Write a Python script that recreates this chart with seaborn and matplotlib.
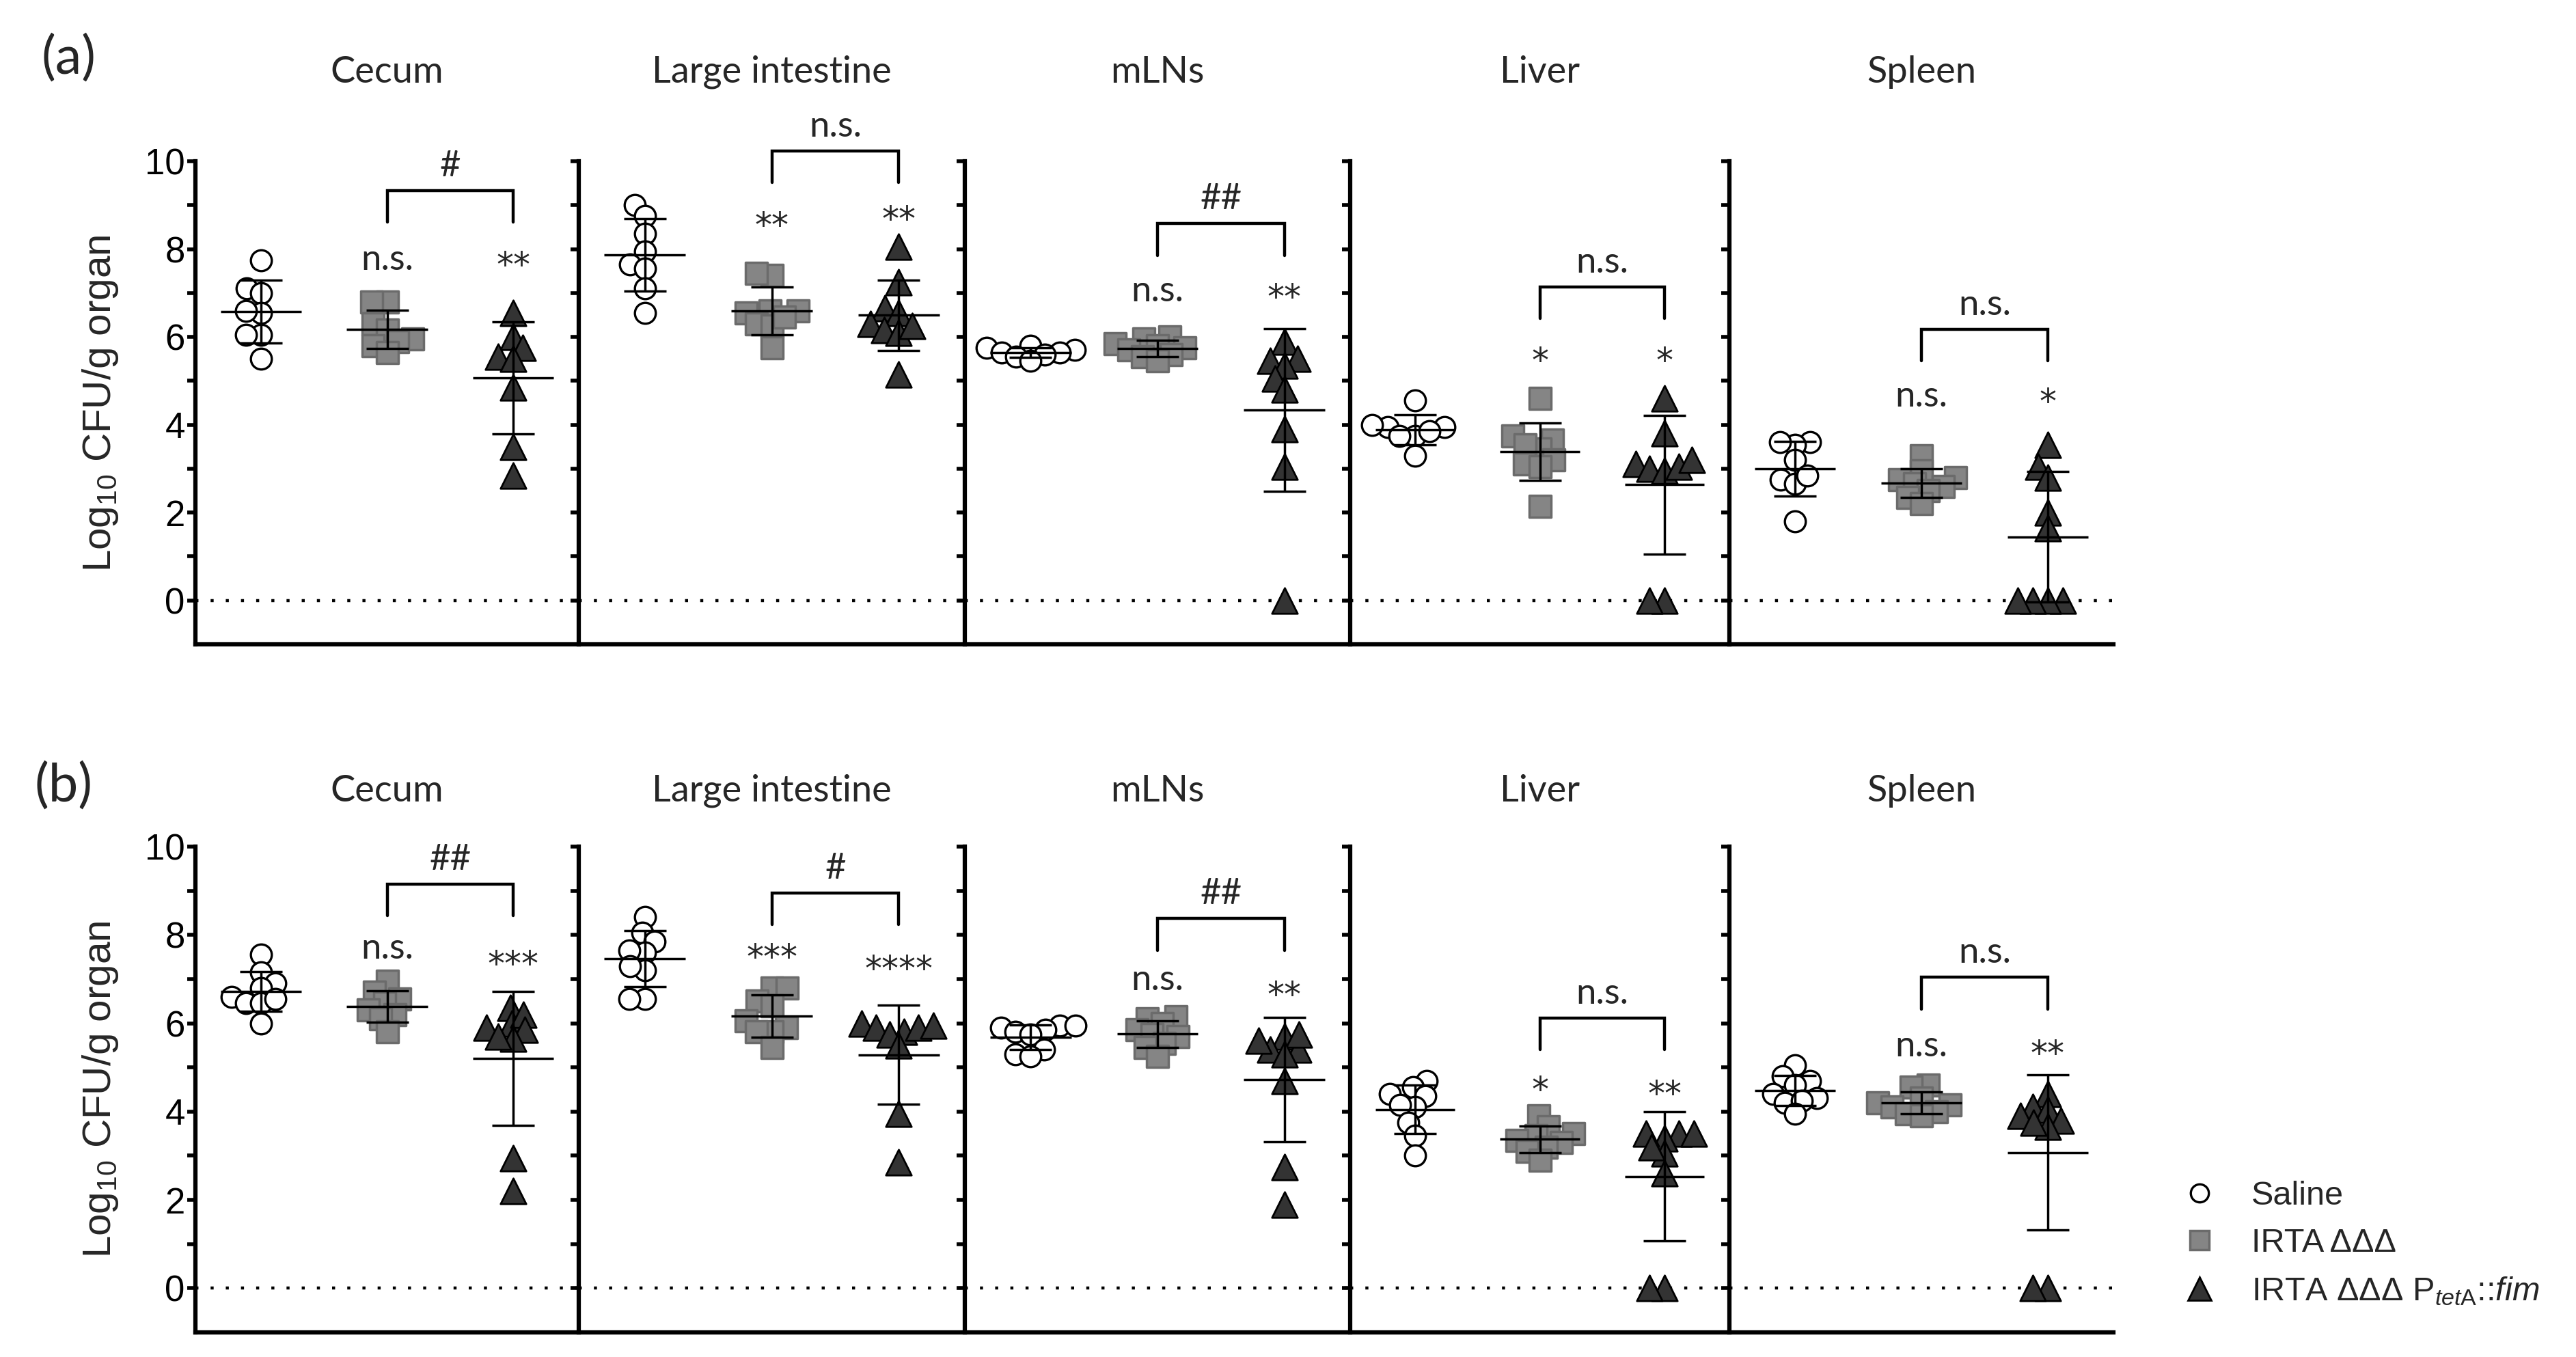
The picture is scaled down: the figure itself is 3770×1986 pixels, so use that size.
import numpy as np
import matplotlib
matplotlib.use("Agg")
import matplotlib.pyplot as plt
from matplotlib.lines import Line2D
import seaborn as sns

sns.set_theme(style="ticks")
plt.rcParams["font.family"] = ["Liberation Sans", "DejaVu Sans"]
plt.rcParams["mathtext.fontset"] = "custom"
plt.rcParams["mathtext.rm"] = "Liberation Sans"
plt.rcParams["mathtext.it"] = "Liberation Sans:italic"

ORGANS = ["Cecum", "Large intestine", "mLNs", "Liver", "Spleen"]
GROUPS = ["Saline", "IRTA ΔΔΔ", "IRTA ΔΔΔ PtetA::fim"]
LEGEND_LABELS = ["Saline", "IRTA ΔΔΔ",
                 r"IRTA ΔΔΔ P$_{\mathit{tet}\mathrm{A}}$::$\mathit{fim}$"]

# (a) log10 CFU/g organ, one list per organ
A_SALINE = [
    [7.75, 7.1, 7.0, 6.55, 6.6, 6.05, 6.05, 5.5],
    [9.0, 8.75, 8.35, 7.95, 7.65, 7.55, 7.1, 6.55],
    [5.8, 5.75, 5.7, 5.65, 5.65, 5.6, 5.55, 5.45],
    [4.55, 3.95, 3.75, 3.95, 4.0, 3.85, 3.75, 3.3],
    [3.6, 3.55, 3.6, 3.2, 2.75, 2.65, 2.85, 1.8],
]
A_IRTA = [
    [6.8, 6.8, 6.3, 6.15, 5.95, 5.9, 5.8, 5.65],
    [7.4, 7.45, 6.6, 6.55, 6.6, 6.3, 6.25, 6.45, 5.75],
    [6.0, 5.95, 5.85, 5.8, 5.75, 5.7, 5.6, 5.55, 5.45],
    [4.6, 3.65, 3.75, 3.45, 3.55, 3.2, 3.1, 3.05, 2.15],
    [3.3, 2.95, 2.8, 2.75, 2.65, 2.6, 2.5, 2.35, 2.2],
]
A_FIM = [
    [6.55, 6.0, 5.75, 5.55, 5.5, 4.85, 3.5, 2.85],
    [8.05, 7.25, 6.65, 6.55, 6.3, 6.15, 6.1, 6.25, 5.15],
    [5.9, 5.45, 5.5, 5.35, 5.05, 4.8, 3.9, 3.05, 0.0],
    [4.6, 3.8, 3.1, 3.0, 2.95, 3.05, 3.2, 0.0, 0.0],
    [3.55, 3.05, 2.8, 2.0, 1.65, 0.0, 0.0, 0.0, 0.0],
]
A_STARS_IRTA = ["n.s.", "**", "n.s.", "*", "n.s."]
A_STARS_FIM = ["**", "**", "**", "*", "*"]
A_BRACKET = ["#", "n.s.", "##", "n.s.", "n.s."]

# (b)
B_SALINE = [
    [7.55, 7.15, 6.9, 6.8, 6.6, 6.45, 6.45, 6.55, 6.0],
    [8.4, 8.05, 7.85, 7.6, 7.65, 7.2, 7.3, 6.55, 6.55],
    [5.95, 5.95, 5.9, 5.85, 5.8, 5.75, 5.4, 5.3, 5.25],
    [4.7, 4.55, 4.35, 4.4, 4.1, 4.15, 3.75, 3.45, 3.0],
    [5.05, 4.8, 4.7, 4.6, 4.4, 4.3, 4.2, 4.25, 3.95],
]
B_IRTA = [
    [6.95, 6.7, 6.55, 6.45, 6.3, 6.2, 6.1, 5.8],
    [6.8, 6.8, 6.5, 6.4, 6.05, 5.9, 5.8, 5.8, 5.45],
    [6.15, 6.1, 6.0, 5.85, 5.75, 5.7, 5.55, 5.45, 5.25],
    [3.9, 3.65, 3.5, 3.45, 3.35, 3.3, 3.2, 3.1, 2.9],
    [4.6, 4.55, 4.3, 4.2, 4.15, 4.1, 4.0, 3.95, 3.9],
]
B_FIM = [
    [6.35, 6.0, 6.2, 5.85, 5.9, 5.65, 5.7, 2.95, 2.2],
    [6.0, 5.9, 5.8, 5.75, 5.9, 5.95, 5.5, 3.95, 2.85],
    [5.7, 5.4, 5.4, 5.6, 5.75, 5.3, 4.7, 2.75, 1.9],
    [3.5, 3.4, 3.5, 3.5, 3.05, 3.2, 2.6, 0.0, 0.0],
    [4.4, 4.1, 4.05, 3.9, 3.8, 3.65, 3.75, 0.0, 0.0],
]
B_STARS_IRTA = ["n.s.", "***", "n.s.", "*", "n.s."]
B_STARS_FIM = ["***", "****", "**", "**", "**"]
B_BRACKET = ["##", "#", "##", "n.s.", "n.s."]

# label heights (data units)
A_STAR_Y = [(7.75, 7.75), (8.66, 8.79), (7.04, 7.02), (5.58, 5.58), (4.64, 4.64)]
A_BRACKET_Y = [9.33, 10.23, 8.58, 7.14, 6.18]
B_STAR_Y = [(7.69, 7.46), (7.61, 7.35), (6.98, 6.76), (4.61, 4.52), (5.48, 5.43)]
B_BRACKET_Y = [9.15, 8.95, 8.37, 6.12, 7.04]

STYLES = [
    dict(marker="o", face="white", edge="black", lw=2.4, size=22),
    dict(marker="s", face="#858585", edge="#6b6b6b", lw=2.5, size=23.5),
    dict(marker="^", face="#333333", edge="black", lw=2.0, size=27),
]
LAYOUT_SIZE = 13

W, H = 3770, 1986
EDGES = [286, 847, 1412, 1976, 2531, 3093]
LABEL_FONT = "Lato"
swarms = []


def make_axes(fig, top_px, bottom_px):
    axes = []
    for k in range(5):
        l, r = EDGES[k], EDGES[k + 1]
        axes.append(fig.add_axes([l / W, 1 - bottom_px / H, (r - l) / W,
                                  (bottom_px - top_px) / H]))
    return axes


def sig_text(ax, x, y, label):
    if "*" in label:
        ax.text(x, y - 0.15, label, ha="center", va="center", fontsize=36,
                family="DejaVu Sans")
    else:
        ax.text(x, y, label, ha="center", va="center", fontsize=38,
                family=LABEL_FONT)


def draw_panel(axes, saline, irta, fim, stars_irta, stars_fim, brackets,
               star_y, bracket_y, title_y):
    for k, ax in enumerate(axes):
        data = [saline[k], irta[k], fim[k]]
        for i, vals in enumerate(data):
            st = STYLES[i]
            n_before = len(ax.collections)
            sns.swarmplot(x=[GROUPS[i]] * len(vals), y=vals, order=GROUPS, ax=ax,
                          marker=st["marker"], size=LAYOUT_SIZE, color=st["face"],
                          edgecolor=st["edge"], linewidth=st["lw"], zorder=3,
                          legend=False, warn_thresh=1)
            # seaborn also adds empty collections for the unused categories
            for c in ax.collections[n_before:]:
                if len(c.get_offsets()) > 0:
                    swarms.append((c, st["size"]))
            m = np.mean(vals)
            sd = np.std(vals, ddof=1)
            ax.hlines(m, i - 0.32, i + 0.32, color="black", lw=2.5, zorder=5)
            ax.errorbar(i, m, yerr=sd, fmt="none", ecolor="black", elinewidth=2.5,
                        capsize=22, capthick=2.5, zorder=5)

        ax.set_xlim(-0.52, 2.52)
        ax.set_ylim(-1, 10)
        ax.axhline(0, color="black", lw=3.2, ls=(0, (1, 4)), zorder=1)
        sns.despine(ax=ax)
        for s in ["left", "bottom"]:
            ax.spines[s].set_linewidth(4.5)
            ax.spines[s].set_color("black")
        ax.set_xticks([])
        ax.set_xlabel("")
        ax.set_ylabel("")
        ax.set_yticks(range(0, 11))
        if k == 0:
            ax.set_yticklabels([str(v) if v % 2 == 0 else "" for v in range(0, 11)])
        else:
            ax.set_yticklabels([])
        ax.tick_params(axis="y", length=9, width=4, direction="out", pad=2,
                       labelsize=38, colors="black")

        # significance vs saline
        sig_text(ax, 1, star_y[k][0], stars_irta[k])
        sig_text(ax, 2, star_y[k][1], stars_fim[k])
        # bracket between the two strains
        by = bracket_y[k]
        ax.plot([1, 1, 2, 2], [by - 0.72, by, by, by - 0.72], color="black",
                lw=3.2, clip_on=False, solid_joinstyle="miter", zorder=6)
        ax.text(1.5, by + 0.55, brackets[k], ha="center", va="center",
                fontsize=38, family=LABEL_FONT, clip_on=False)

        ax.text(0.5, title_y, ORGANS[k], transform=ax.transAxes, ha="center",
                va="center", fontsize=39, family=LABEL_FONT)


fig = plt.figure(figsize=(W / 100, H / 100), dpi=100)

axes_a = make_axes(fig, 236, 943)
draw_panel(axes_a, A_SALINE, A_IRTA, A_FIM, A_STARS_IRTA, A_STARS_FIM, A_BRACKET,
           A_STAR_Y, A_BRACKET_Y, 1.185)
axes_b = make_axes(fig, 1239, 1950)
draw_panel(axes_b, B_SALINE, B_IRTA, B_FIM, B_STARS_IRTA, B_STARS_FIM, B_BRACKET,
           B_STAR_Y, B_BRACKET_Y, 1.115)

ylabel = r"Log$_{\mathrm{10}}$ CFU/g organ"
fig.text(147 / W, 1 - 590 / H, ylabel, rotation=90, ha="center", va="center",
         fontsize=42)
fig.text(147 / W, 1 - 1594 / H, ylabel, rotation=90, ha="center", va="center",
         fontsize=42)
fig.text(100 / W, 1 - 86 / H, "(a)", ha="center", va="center", fontsize=56,
         family=LABEL_FONT)
fig.text(93 / W, 1 - 1151 / H, "(b)", ha="center", va="center", fontsize=56,
         family=LABEL_FONT)

handles = [
    Line2D([], [], ls="none", marker=st["marker"], markersize=st["size"] - 3,
           markerfacecolor=st["face"], markeredgecolor=st["edge"],
           markeredgewidth=st["lw"])
    for st in STYLES
]
fig.legend(handles, LEGEND_LABELS, loc="upper left",
           bbox_to_anchor=(3195 / W, 1 - 1728 / H),
           frameon=False, fontsize=35, handlelength=1.0, handletextpad=1.05,
           labelspacing=0.5, borderpad=0, borderaxespad=0)

# lay the swarms out with a small marker, then enlarge so points overlap
# the way the original dot plot does
fig.canvas.draw()
for pts, size in swarms:
    if "draw" in vars(pts):
        del pts.draw
    pts.set_sizes([size ** 2])

fig.savefig("out.png", dpi=100)
